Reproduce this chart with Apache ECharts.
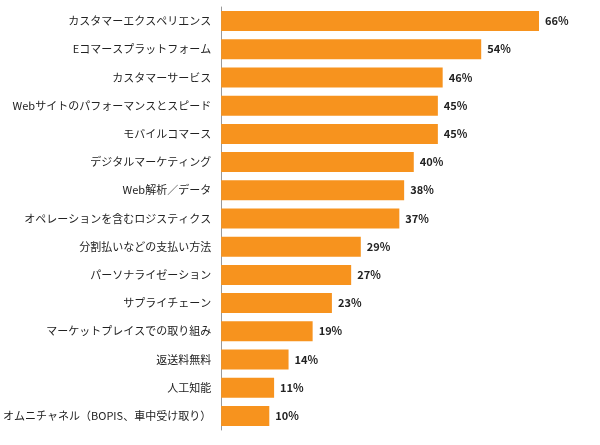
<!DOCTYPE html>
<html>
<head>
<meta charset="utf-8">
<script src="https://cdn.jsdelivr.net/npm/echarts@6/dist/echarts.min.js"></script>
<style>html,body{margin:0;padding:0;background:#fff}#chartWrapper{width:600px;height:445px}</style>
</head>
<body>
<div id="chartWrapper"></div>
<script>
const categories = [
	"カスタマーエクスペリエンス",
	"Eコマースプラットフォーム",
	"カスタマーサービス",
	"Webサイトのパフォーマンスとスピード",
	"モバイルコマース",
	"デジタルマーケティング",
	"Web解析／データ",
	"オペレーションを含むロジスティクス",
	"分割払いなどの支払い方法",
	"パーソナライゼーション",
	"サプライチェーン",
	"マーケットプレイスでの取り組み",
	"返送料無料",
	"人工知能",
	"オムニチャネル（BOPIS、車中受け取り）"
]
const values = [66, 54, 46, 45, 45, 40, 38, 37, 29, 27, 23, 19, 14, 11, 10]

const myChart = echarts.init(document.getElementById("chartWrapper"))
const font = '"Noto Sans CJK JP", sans-serif'
myChart.setOption({
	animation: false,
	grid: { left: 219, right: 61, top: 7, bottom: 15 },
	xAxis: { type: "value", min: 0, max: 66, show: false },
	yAxis: {
		type: "category",
		inverse: true,
		data: categories,
		axisTick: { show: false },
		axisLine: { lineStyle: { color: "#999", width: 1 } },
		axisLabel: { color: "#222", fontSize: 11, fontFamily: font, margin: 10 }
	},
	series: [{
		type: "bar",
		data: values,
		barWidth: 20,
		itemStyle: { color: "#F7931E" },
		label: {
			show: true,
			position: "right",
			formatter: "{c}%",
			color: "#222",
			fontWeight: "bold",
			fontSize: 11,
			fontFamily: font,
			distance: 6
		}
	}]
})
</script>
</body>
</html>
